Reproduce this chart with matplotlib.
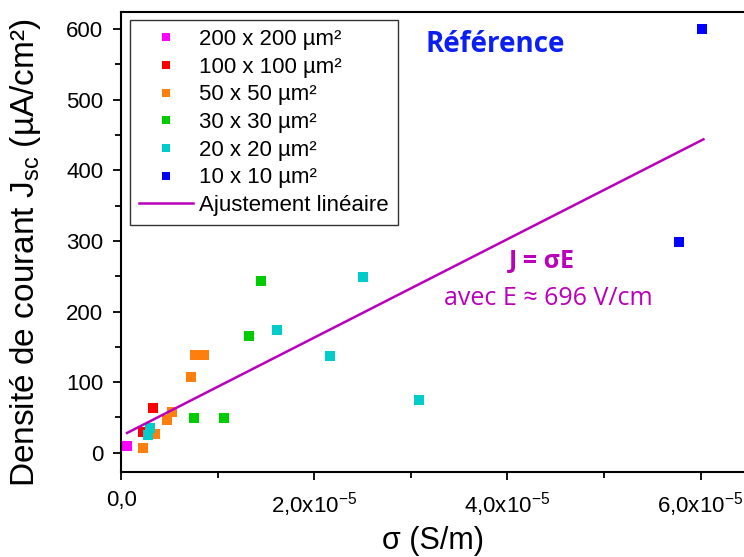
import numpy as np
import matplotlib
matplotlib.use("Agg")
import matplotlib.pyplot as plt
from matplotlib.ticker import MultipleLocator, FixedLocator, FixedFormatter

plt.rcParams['font.family'] = ['Liberation Sans', 'DejaVu Sans']
plt.rcParams['mathtext.fontset'] = 'custom'
plt.rcParams['mathtext.rm'] = 'Liberation Sans'
plt.rcParams['mathtext.it'] = 'Liberation Sans:italic'

# sigma in S/m, J in uA/cm2
x200 = [0.06e-5]
y200 = [9]
x100 = [0.33e-5, 0.22e-5]
y100 = [64, 29]
x50 = [0.76e-5, 0.86e-5, 0.72e-5, 0.53e-5, 0.47e-5, 0.35e-5, 0.23e-5]
y50 = [139, 139, 107, 58, 46, 26, 6]
x30 = [0.75e-5, 1.06e-5, 1.45e-5, 1.32e-5]
y30 = [49, 49, 243, 166]
x20 = [0.30e-5, 0.28e-5, 2.50e-5, 1.61e-5, 2.16e-5, 3.08e-5]
y20 = [35, 25, 249, 174, 137, 75]
x10 = [6.01e-5, 5.78e-5]
y10 = [600, 299]

fit_x = [0.06e-5, 6.03e-5]
fit_y = [28, 444]

series = [
    (x200, y200, '#FF00FF', '200 x 200 µm²'),
    (x100, y100, '#FF0000', '100 x 100 µm²'),
    (x50, y50, '#FF7F0E', '50 x 50 µm²'),
    (x30, y30, '#00CC00', '30 x 30 µm²'),
    (x20, y20, '#00CCCC', '20 x 20 µm²'),
    (x10, y10, '#0000FF', '10 x 10 µm²'),
]

xticks = [0, 2e-5, 4e-5, 6e-5]
xticklabels = ['0,0', '2,0x10$^{-5}$', '4,0x10$^{-5}$', '6,0x10$^{-5}$']

fig = plt.figure(figsize=(7.44, 5.57), dpi=100)
ax = fig.add_axes([0.163, 0.153, 0.837, 0.825])

for xs, ys, c, lab in series:
    ax.plot(xs, ys, 's', color=c, markersize=7, markeredgewidth=0, label=lab)
ax.plot(fit_x, fit_y, '-', color='#BB00BB', linewidth=1.8, label='Ajustement linéaire')

ax.set_xlim(0, 6.45e-5)
ax.set_ylim(-27, 624)
ax.xaxis.set_major_locator(FixedLocator(xticks))
ax.xaxis.set_major_formatter(FixedFormatter(xticklabels))
ax.xaxis.set_minor_locator(MultipleLocator(1e-5))
ax.yaxis.set_major_locator(MultipleLocator(100))
ax.yaxis.set_minor_locator(MultipleLocator(50))
ax.tick_params(which='major', length=6, width=1.3, labelsize=16, direction='out')
ax.tick_params(which='minor', length=4, width=1.3, direction='out')
ax.tick_params(axis='x', pad=7)
ax.tick_params(axis='y', pad=7)
for s in ['left', 'bottom', 'top']:
    ax.spines[s].set_linewidth(1.5)
ax.spines['right'].set_visible(False)

ax.set_xlabel('σ (S/m)', fontsize=22, labelpad=5)
ax.set_ylabel('Densité de courant J$_{\\rm sc}$ (µA/cm²)', fontsize=24)
ax.yaxis.set_label_coords(-0.126, 0.476)

leg = ax.legend(loc='upper left', bbox_to_anchor=(0.0145, 0.983), fontsize=16,
                frameon=True, fancybox=False, edgecolor='black', markerscale=0.75,
                handlelength=2.4, handletextpad=0.3, labelspacing=0.3,
                borderpad=0.4, borderaxespad=0)
leg.get_frame().set_linewidth(1.0)

ax.text(0.600, 0.930, 'Référence', transform=ax.transAxes, fontsize=20,
        fontweight='bold', color='#0A1EF5', family='Open Sans', ha='center', va='center')
ax.text(0.676, 0.457, 'J = σE', transform=ax.transAxes, fontsize=18,
        fontweight='bold', color='#BB00BB', family='Open Sans', ha='center', va='center')
ax.text(0.685, 0.376, 'avec E ≈ 696 V/cm', transform=ax.transAxes, fontsize=18,
        color='#BB00BB', family='Open Sans', ha='center', va='center')

fig.savefig('out.png', dpi=100)
